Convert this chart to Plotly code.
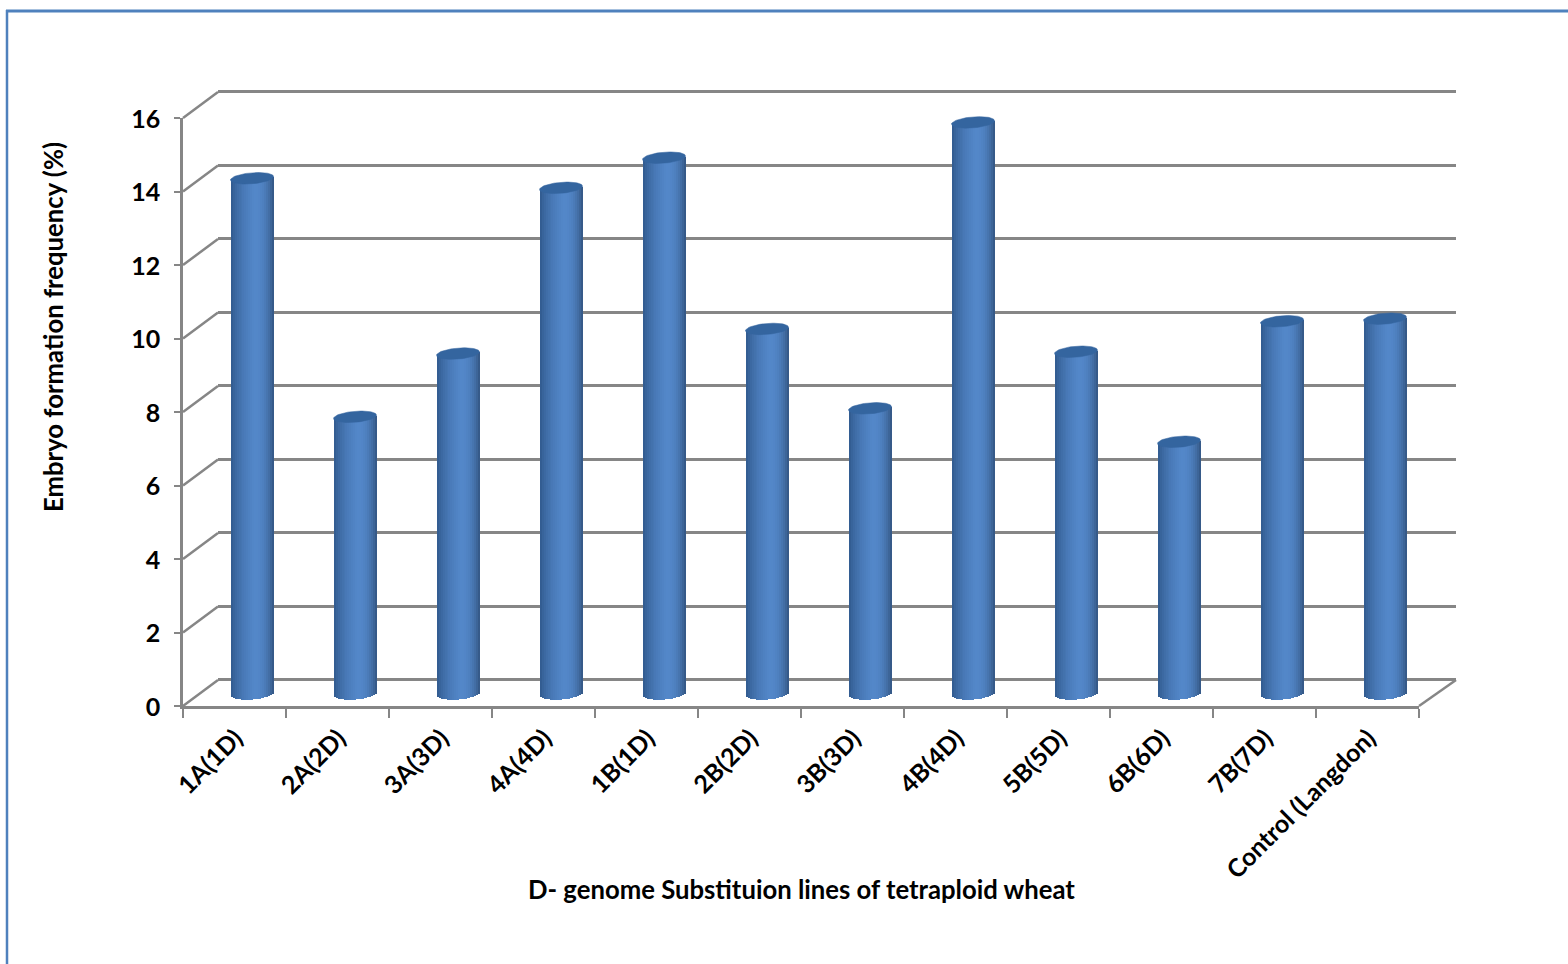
import math
import plotly.graph_objects as go

# Embryo formation frequency for each D-genome substitution line
categories = ["1A(1D)", "2A(2D)", "3A(3D)", "4A(4D)", "1B(1D)", "2B(2D)",
              "3B(3D)", "4B(4D)", "5B(5D)", "6B(6D)", "7B(7D)", "Control (Langdon)"]
frequency = [14.02, 7.53, 9.25, 13.76, 14.58, 9.92, 7.76, 15.54, 9.3, 6.85, 10.13, 10.2]
y_ticks = [0, 2, 4, 6, 8, 10, 12, 14, 16]

W, H = 1568, 964
FONT = "Lato"
TEXT = "#000000"
GREY = "#868686"
FRAME = "#4f81bd"

# Pixel geometry of the pseudo-3D box: front plane, depth offset, plot scale
FRONT_L, FRONT_R, FRONT_T, FRONT_B = 183, 1419, 118, 706
WALL_L, WALL_R = 218, 1456
DY = 26
MID_X, MID_Y = 17.5, 12.5
PX_PER_UNIT = (FRONT_B - FRONT_T) / 16
PX_PER_CAT = (FRONT_R - FRONT_L) / 12
BAR_PX = 43
ELL_B, ELL_TILT = 5.5, 1.7
Y_PAD = 1.0
WALL_PAD = 0.03


def px_x(p):
    return p / W


def px_y(p):
    return 1 - p / H


def mix(c0, c1, t):
    return "rgb(%d,%d,%d)" % tuple(round(a + (b - a) * t) for a, b in zip(c0, c1))


def shade(u):
    # Horizontal lighting across the cylinder, u runs from -1 to 1
    dark_l, dark_r, light = (44, 84, 134), (50, 84, 128), (83, 135, 201)
    if u < 0.1:
        return mix(dark_l, light, ((u + 1) / 1.1) ** 0.55)
    return mix(light, dark_r, ((u - 0.1) / 0.9) ** 2.4)


# Cylinder bodies, built as thin vertical strips with a curved foot
STRIPS = 22
half = BAR_PX / PX_PER_CAT / 2
strip_w = 2 * half / STRIPS
xs, tops, bases, colors = [], [], [], []
for i, v in enumerate(frequency):
    for s in range(STRIPS):
        u = -1 + (s + 0.5) * 2 / STRIPS
        foot = (ELL_TILT * u - ELL_B * math.sqrt(1 - u * u)) / PX_PER_UNIT
        top = v + ELL_TILT * u / PX_PER_UNIT
        xs.append(i + u * half)
        bases.append(foot)
        tops.append(top - foot)
        colors.append(shade(u))

fig = go.Figure()

# Back wall carries the horizontal gridlines
fig.add_trace(go.Scatter(x=[0], y=[0], xaxis="x", yaxis="y", mode="markers",
                         marker=dict(opacity=0), hoverinfo="skip", showlegend=False))

fig.add_trace(go.Bar(x=xs, y=tops, base=bases, width=strip_w * 1.25,
                     marker=dict(color=colors, line=dict(width=0)),
                     xaxis="x2", yaxis="y2", hoverinfo="skip", showlegend=False))

# Tilted ellipse capping each cylinder
for i, v in enumerate(frequency):
    ts = [2 * math.pi * k / 72 for k in range(73)]
    fig.add_trace(go.Scatter(
        x=[i + half * math.cos(t) for t in ts],
        y=[v + (ELL_B * math.sin(t) + ELL_TILT * math.cos(t)) / PX_PER_UNIT for t in ts],
        xaxis="x2", yaxis="y2", mode="lines", fill="toself",
        fillcolor="#34659f", line=dict(color="#34659f", width=0.5),
        hoverinfo="skip", showlegend=False))

# Front plane carries the visible axes
fig.add_trace(go.Scatter(x=categories, y=[0] * len(categories), xaxis="x3", yaxis="y3",
                         mode="markers", marker=dict(opacity=0),
                         hoverinfo="skip", showlegend=False))

shapes = []
# Floor and side-wall connectors between front plane and back wall
for t in y_ticks:
    y = FRONT_B - t * PX_PER_UNIT
    shapes.append(dict(type="line", xref="paper", yref="paper", layer="below",
                       x0=px_x(FRONT_L), y0=px_y(y), x1=px_x(WALL_L), y1=px_y(y - DY),
                       line=dict(color=GREY, width=2.5)))
shapes.append(dict(type="line", xref="paper", yref="paper", layer="below",
                   x0=px_x(FRONT_R), y0=px_y(FRONT_B), x1=px_x(WALL_R), y1=px_y(FRONT_B - DY),
                   line=dict(color=GREY, width=2.5)))
# Outer chart frame, open on the right and at the bottom
shapes.append(dict(type="line", xref="paper", yref="paper", x0=px_x(6), x1=1,
                   y0=px_y(11), y1=px_y(11), line=dict(color=FRAME, width=3)))
shapes.append(dict(type="line", xref="paper", yref="paper", x0=px_x(7), x1=px_x(7),
                   y0=px_y(10), y1=0, line=dict(color=FRAME, width=2.5)))

hidden = dict(visible=False, showgrid=False, zeroline=False)
tick_font = dict(family=FONT, size=25, color=TEXT, weight="bold")
title_font = dict(family=FONT, size=25.7, color=TEXT)
wall_pad_px = WALL_PAD * PX_PER_UNIT

fig.update_layout(
    template="none",
    width=W, height=H, autosize=False,
    margin=dict(l=0, r=0, t=0, b=0, pad=0),
    paper_bgcolor="white", plot_bgcolor="rgba(0,0,0,0)",
    barmode="overlay", bargap=0, showlegend=False,
    shapes=shapes,
    # Back wall
    xaxis=dict(domain=[px_x(WALL_L), px_x(WALL_R)], range=[0, 12],
               visible=False, showgrid=False, zeroline=False),
    yaxis=dict(domain=[px_y(FRONT_B - DY + wall_pad_px), px_y(FRONT_T - DY - wall_pad_px)],
               range=[-WALL_PAD, 16 + WALL_PAD], anchor="x",
               tickvals=y_ticks, showgrid=True, gridcolor=GREY, gridwidth=2.5,
               zeroline=False, showline=False, showticklabels=False, ticks=""),
    # Mid-depth plane where the cylinders stand
    xaxis2=dict(domain=[px_x(FRONT_L + MID_X), px_x(FRONT_R + MID_X)], range=[-0.5, 11.5],
                anchor="y2", **hidden),
    yaxis2=dict(domain=[px_y(FRONT_B - MID_Y + Y_PAD * PX_PER_UNIT), px_y(FRONT_T - MID_Y)],
                range=[-Y_PAD, 16], anchor="x2", **hidden),
    # Front plane
    xaxis3=dict(domain=[px_x(FRONT_L), px_x(FRONT_R)], anchor="y3", type="category",
                categoryorder="array", categoryarray=categories, range=[-0.5, 11.5],
                tickson="boundaries", ticks="outside", ticklen=9, tickwidth=2, tickcolor=GREY,
                showline=True, linecolor=GREY, linewidth=2.5, showgrid=False, zeroline=False,
                tickangle=-45, tickfont=tick_font, automargin=False,
                ticklabelstandoff=5, ticklabelshift=1),
    yaxis3=dict(domain=[px_y(FRONT_B), px_y(FRONT_T)], anchor="x3", range=[0, 16],
                tickvals=y_ticks, ticks="outside", ticklen=6, tickwidth=2, tickcolor=GREY,
                showline=True, linecolor=GREY, linewidth=2.5, showgrid=False, zeroline=False,
                tickfont=tick_font, automargin=False,
                ticklabelstandoff=9, ticklabelshift=1),
    annotations=[
        dict(text="<b>Embryo formation frequency (%)</b>", xref="paper", yref="paper",
             x=px_x(53), y=px_y(327), showarrow=False, textangle=-90,
             xanchor="center", yanchor="middle", font=title_font),
        dict(text="<b>D- genome Substituion lines of tetraploid wheat</b>", xref="paper", yref="paper",
             x=px_x(801), y=px_y(889), showarrow=False,
             xanchor="center", yanchor="middle", font=title_font),
    ],
)

fig.write_html("out.html", config=dict(displayModeBar=False))
